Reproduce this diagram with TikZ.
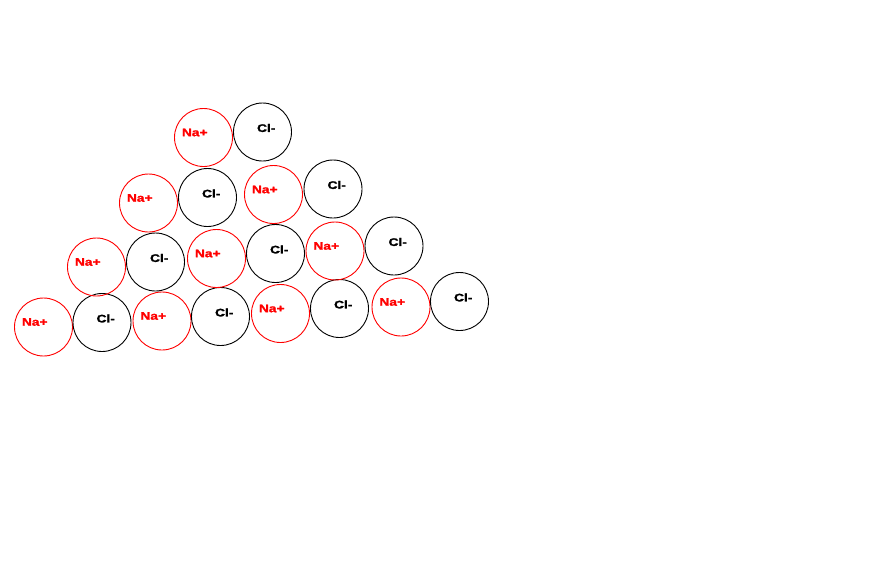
\documentclass[tikz,border=0pt]{standalone}
\usepackage{fontspec}
\usepackage{xcolor}
\usepackage{tikz}
\newfontfamily\ionfont{Liberation Sans}[BoldFeatures={FakeBold=1.5}]

\tikzset{
	ion/.style={circle, minimum size=58pt, inner sep=0pt, line width=0.9pt},
	na/.style={ion, draw=red, label={[font=\ionfont\bfseries\fontsize{11}{11}\selectfont, text=red, xscale=1.25, xshift=-7pt, yshift=5pt]center:Na+}},
	cl/.style={ion, draw=black, label={[font=\ionfont\bfseries\fontsize{11}{11}\selectfont, text=black, xscale=1.25, xshift=3pt, yshift=4pt]center:Cl-}}
}

\begin{document}
\begin{tikzpicture}[x=1pt,y=-1pt]
	\useasboundingbox[fill=white] (0,0) rectangle (887,584);
	
	% Fila 1 (base)
	\node[na] (na11) at (43.5,327) {};
	\node[cl] (cl11) at (102,322.5) {};
	\node[na] (na12) at (162,321) {};
	\node[cl] (cl12) at (220.5,316.5) {};
	\node[na] (na13) at (280.5,313.5) {};
	\node[cl] (cl13) at (339.5,308.5) {};
	\node[na] (na14) at (401,307) {};
	\node[cl] (cl14) at (459.5,301.5) {};
	
	% Fila 2
	\node[na] (na21) at (96.5,267) {};
	\node[cl] (cl21) at (155.5,262) {};
	\node[na] (na22) at (216.5,258.5) {};
	\node[cl] (cl22) at (275.5,253.5) {};
	\node[na] (na23) at (335,251) {};
	\node[cl] (cl23) at (394,246) {};
	
	% Fila 3
	\node[na] (na31) at (148.5,203) {};
	\node[cl] (cl31) at (207.5,197.5) {};
	\node[na] (na32) at (273.5,194.5) {};
	\node[cl] (cl32) at (333,189) {};
	
	% Fila 4 (topo)
	\node[na] (na41) at (203.5,137.5) {};
	\node[cl] (cl41) at (262.5,132) {};
\end{tikzpicture}
\end{document}
